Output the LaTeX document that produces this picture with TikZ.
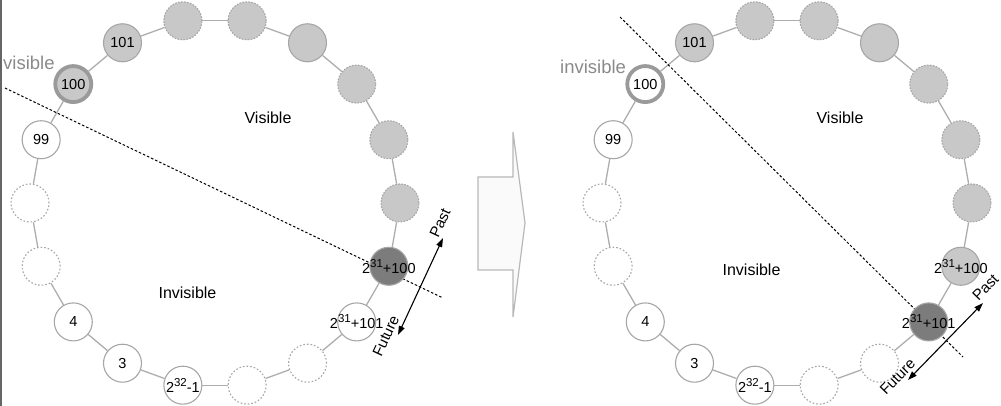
\documentclass[tikz,border=0pt]{standalone}
\usepackage{fontspec}
\setmainfont{Liberation Sans}
\usetikzlibrary{arrows.meta,backgrounds}
\definecolor{ringgray}{HTML}{A6A6A6}
\definecolor{fillgray}{HTML}{C8C8C8}
\definecolor{darkfill}{HTML}{7C7C7C}
\definecolor{hotring}{HTML}{9A9A9A}
\definecolor{edgegray}{HTML}{ADADAD}
\definecolor{taggray}{HTML}{8A8A8A}
\newcommand{\slotexp}[1]{\raisebox{0.42em}{\fontsize{11.5}{12}\selectfont #1}}
\begin{document}
\begin{tikzpicture}[x=1pt,y=1pt,
  slot/.style={circle,minimum size=38pt,inner sep=0pt,draw=ringgray,line width=1.1pt},
  gdash/.style={slot,fill=fillgray,dash pattern=on 1.6pt off 1.4pt},
  gsolid/.style={slot,fill=fillgray},
  wdash/.style={slot,fill=white,dash pattern=on 1.6pt off 2pt},
  wsolid/.style={slot,fill=white},
  darkslot/.style={slot,fill=darkfill},
  hotg/.style={slot,fill=fillgray,draw=hotring,line width=3.8pt,minimum size=36pt},
  hotw/.style={slot,fill=white,draw=hotring,line width=3.8pt,minimum size=36pt},
  numtext/.style={font=\fontsize{14.5}{16}\selectfont,inner sep=0pt},
  bigword/.style={font=\fontsize{16}{18}\selectfont,inner sep=0pt},
  graytag/.style={font=\fontsize{18.5}{20}\selectfont,text=taggray,inner sep=0pt},
  timetag/.style={font=\fontsize{15}{17}\selectfont,inner sep=0pt},
  ringline/.style={draw=edgegray,line width=1.3pt},
  cutline/.style={dash pattern=on 2.5pt off 2pt,line width=1pt},
  timearrow/.style={{Triangle[length=9pt,width=6pt]}-{Triangle[length=9pt,width=6pt]},line width=1.1pt}]
\useasboundingbox (0,0) rectangle (1001,406);
\draw[black!60,line width=2pt] (1,0) -- (1,406);

% left ring
\begin{scope}[shift={(215,203)}]
\foreach \ang/\sty/\txt [count=\k] in {0/gdash/{},20/gdash/{},40/gdash/{},60/gsolid/{},80/gdash/{},100/gdash/{},
    120/gsolid/101,140/hotg/100,160/wsolid/99,180/wdash/{},200/wdash/{},220/wsolid/4,240/wsolid/3,
    260/wsolid/{2\slotexp{32}-1},280/wdash/{},300/wdash/{},
    320/wsolid/{2\slotexp{31}+101},340/darkslot/{2\slotexp{31}+100}}{
  \node[\sty] (l\k) at (\ang:185) {};
  \node[numtext] at (l\k) {\txt};
}
\end{scope}

% right ring
\begin{scope}[shift={(787,203)}]
\foreach \ang/\sty/\txt [count=\k] in {0/gdash/{},20/gdash/{},40/gdash/{},60/gsolid/{},80/gdash/{},100/gdash/{},
    120/gsolid/101,140/hotw/100,160/wsolid/99,180/wdash/{},200/wdash/{},220/wsolid/4,240/wsolid/3,
    260/wsolid/{2\slotexp{32}-1},280/wdash/{},300/wdash/{},
    320/darkslot/{2\slotexp{31}+101},340/gsolid/{2\slotexp{31}+100}}{
  \node[\sty] (r\k) at (\ang:185) {};
  \node[numtext] at (r\k) {\txt};
}
\end{scope}

% ring lines and cut lines behind the slots
\coordinate (lcut1) at (5,318); \coordinate (lcut2) at (443,108);
\coordinate (rcut1) at (620,389); \coordinate (rcut2) at (963,49);
\begin{scope}[on background layer]
\foreach \side in {l,r}
  \foreach \k in {1,...,18}{
    \pgfmathtruncatemacro{\nxt}{mod(\k,18)+1}
    \draw[ringline] (\side\k) -- (\side\nxt);
  }
\draw[cutline] (lcut1) -- (lcut2);
\draw[cutline] (rcut1) -- (rcut2);
\end{scope}

% past / future
\coordinate (lfut) at (398,71); \coordinate (lpast) at (443,168);
\coordinate (rfut) at (908,26); \coordinate (rpast) at (983,103);
\draw[timearrow] (lfut) -- (lpast);
\draw[timearrow] (rfut) -- (rpast);
\node[timetag,rotate=65] (lpastlbl) at (440,183) {Past};
\node[timetag,rotate=65] (lfutlbl) at (385.8,70) {Future};
\node[timetag,rotate=45.7] (rpastlbl) at (985.5,118.5) {Past};
\node[timetag,rotate=45.7] (rfutlbl) at (897.5,29.5) {Future};

% middle arrow
\draw[draw=black!28,fill=black!2,line width=1.2pt] (478,229) -- (513,229) -- (513,274) -- (525,183)
  -- (513,89) -- (513,136) -- (478,136) -- cycle;

\node[bigword,anchor=base] (lvis) at (268,282) {Visible};
\node[bigword,anchor=base] (linv) at (187.5,107) {Invisible};
\node[bigword,anchor=base] (rvis) at (840,282) {Visible};
\node[bigword,anchor=base] (rinv) at (751.5,130) {Invisible};
\node[graytag,anchor=base west] (ltag) at (3,336) {visible};
\node[graytag,anchor=base west] (rtag) at (560,332) {invisible};
\end{tikzpicture}
\end{document}
